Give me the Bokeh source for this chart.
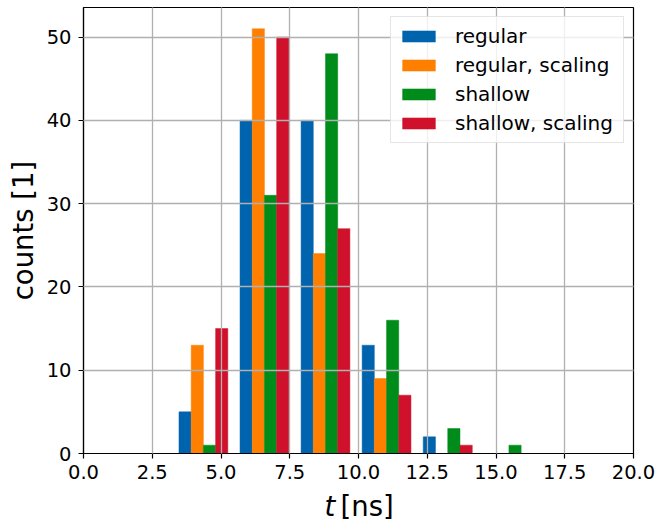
from bokeh.plotting import figure
from bokeh.models import Range1d, FixedTicker, PrintfTickFormatter, Label, Legend, LegendItem
from bokeh.embed import file_html
from bokeh.resources import INLINE

# ---- data ----
bin_edges = [3.25, 5.47, 7.69, 9.91, 12.13, 14.36, 16.58]
series_names = ["regular", "regular, scaling", "shallow", "shallow, scaling"]
regular = [5, 40, 40, 13, 2, 0]
regular_scaling = [13, 51, 24, 9, 0, 0]
shallow = [1, 31, 48, 16, 3, 1]
shallow_scaling = [15, 50, 27, 7, 1, 0]
colors = ["#0063ad", "#ff7f00", "#008c1a", "#d0112b"]
x_ticks = [0.0, 2.5, 5.0, 7.5, 10.0, 12.5, 15.0, 17.5, 20.0]
y_ticks = [0, 10, 20, 30, 40, 50]

FONT = "DejaVu Sans"

p = figure(width=657, height=519, output_backend="svg", toolbar_location=None,
           x_range=Range1d(0, 20), y_range=Range1d(0, 53.55),
           min_border_left=83, min_border_right=24, min_border_top=7, min_border_bottom=66)
p.background_fill_color = "white"
p.border_fill_color = "white"
p.outline_line_color = "black"
p.outline_line_width = 1.2

all_series = [regular, regular_scaling, shallow, shallow_scaling]
n = len(all_series)
items = []
for i, (vals, name, col) in enumerate(zip(all_series, series_names, colors)):
    lefts = bin_edges[:-1]
    widths = [bin_edges[k + 1] - bin_edges[k] for k in range(len(lefts))]
    xs = [l + 0.1 * w + 0.8 * w / n * (i + 0.5) for l, w in zip(lefts, widths)]
    bw = [0.8 * w / n for w in widths]
    r = p.vbar(x=xs, top=vals, width=bw, bottom=0, fill_color=col, line_color=col,
               line_alpha=0.6, line_width=0.8)
    items.append(LegendItem(label=name, renderers=[r]))

# axes
for ax in (p.xaxis[0], p.yaxis[0]):
    ax.axis_line_color = "black"
    ax.axis_line_width = 1.2
    ax.major_tick_line_color = "black"
    ax.major_tick_line_width = 1.2
    ax.major_tick_out = 5
    ax.major_tick_in = 0
    ax.minor_tick_line_color = None
    ax.major_label_text_font = FONT
    ax.major_label_text_font_size = "19.5px"
    ax.major_label_text_color = "black"
    ax.major_label_standoff = 6

p.xaxis.ticker = FixedTicker(ticks=x_ticks)
p.xaxis.formatter = PrintfTickFormatter(format="%.1f")
p.yaxis.ticker = FixedTicker(ticks=y_ticks)
p.yaxis.major_label_standoff = 7

p.yaxis.axis_label = "counts [1]"
p.yaxis.axis_label_text_font = FONT
p.yaxis.axis_label_text_font_size = "27.5px"
p.yaxis.axis_label_text_font_style = "normal"
p.yaxis.axis_label_text_color = "black"
p.yaxis.axis_label_standoff = 5

# grid
for g in (p.xgrid[0], p.ygrid[0]):
    g.grid_line_color = "#b0b0b0"
    g.grid_line_width = 1.3
    g.level = "guide"

# x axis label with italic t (canvas coordinates, held in side panels)
p.add_layout(Label(x=324, y=505, x_units="canvas", y_units="canvas", text="t",
                   text_font=FONT, text_font_size="27.5px", text_font_style="italic",
                   text_color="black", text_baseline="alphabetic"), "right")
p.add_layout(Label(x=340, y=505, x_units="canvas", y_units="canvas", text="[ns]",
                   text_font=FONT, text_font_size="27.5px",
                   text_color="black", text_baseline="alphabetic"), "below")

legend = Legend(items=items, location="top_right")
legend.label_text_font = FONT
legend.label_text_font_size = "20px"
legend.label_text_color = "black"
legend.glyph_width = 41
legend.glyph_height = 14
legend.label_height = 20
legend.label_width = 161
legend.spacing = 5
legend.padding = 7
legend.margin = 9
legend.label_standoff = 16
legend.border_line_color = "#cccccc"
legend.border_line_width = 1
legend.background_fill_color = "white"
legend.background_fill_alpha = 0.8
p.add_layout(legend)

open("out.html", "w").write(file_html(p, INLINE))
